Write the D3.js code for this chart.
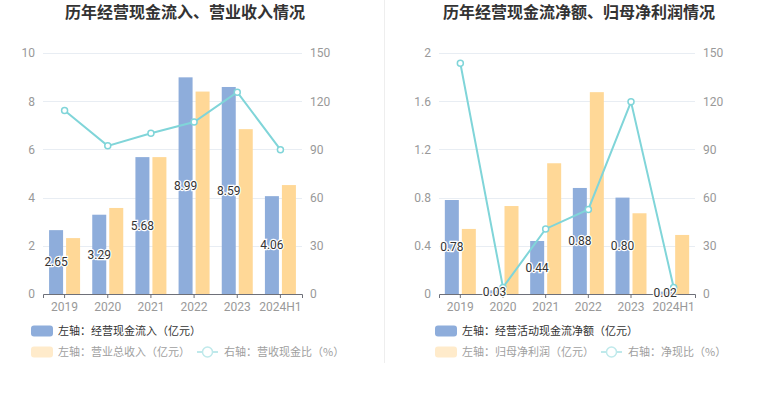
<!DOCTYPE html>
<html>
<head>
<meta charset="utf-8">
<script src="https://cdn.jsdelivr.net/npm/d3@7"></script>
<style>
  body { margin: 0; background: #fff; }
  svg { display: block; font-family: "Noto Sans CJK SC", "Noto Sans", sans-serif; }
</style>
</head>
<body>
<div id="chart_container"></div>
<script>
// Data

const years = ["2019", "2020", "2021", "2022", "2023", "2024H1"]

const cashInflow = [2.65, 3.29, 5.68, 8.99, 8.59, 4.06]
const revenue = [2.32, 3.57, 5.68, 8.40, 6.84, 4.52]
const cashRevenueRatio = [114.2, 92.2, 100.0, 107.0, 125.6, 89.8]

const netCashFlow = [0.78, 0.03, 0.44, 0.88, 0.80, 0.02]
const netProfit = [0.54, 0.73, 1.085, 1.675, 0.67, 0.49]
const netCashRatio = [143.6, 4.1, 40.5, 52.6, 119.6, 4.1]

const leftTicksA = [0, 2, 4, 6, 8, 10]
const leftTicksB = [0, 0.4, 0.8, 1.2, 1.6, 2]
const rightTicks = [0, 30, 60, 90, 120, 150]

// Styles

const blue = "#8eaddb"
const yellow = "#ffd897"
const teal = "#80d5d9"
const axisText = "#999"
const gridColor = "#e8edf3"
const legendSize = "11px"

const W = 765, H = 393
const plotTop = 53, plotBottom = 294

const svg = d3.select("#chart_container").append("svg")
  .attr("width", W)
  .attr("height", H)

// separator
svg.append("line")
  .attr("x1", 384.5).attr("x2", 384.5)
  .attr("y1", 0).attr("y2", 363)
  .attr("stroke", "#eeeeee")
  .attr("stroke-width", 1)

function drawChart(cfg) {
  const g = svg.append("g")

  const x = d3.scaleBand().domain(years).range([cfg.left, cfg.right])
  const yL = d3.scaleLinear().domain([0, d3.max(cfg.leftTicks)]).range([plotBottom, plotTop])
  const yR = d3.scaleLinear().domain([0, 150]).range([plotBottom, plotTop])

  // title
  g.append("text")
    .attr("x", cfg.titleX)
    .attr("y", 18)
    .attr("text-anchor", "middle")
    .style("font-size", "16px")
    .style("font-weight", "bold")
    .style("fill", "#333")
    .text(cfg.title)

  // gridlines
  g.selectAll(".grid")
    .data(cfg.leftTicks.slice(1))
    .join("line")
    .attr("x1", cfg.left)
    .attr("x2", cfg.right)
    .attr("y1", d => Math.round(yL(d)) + 0.5)
    .attr("y2", d => Math.round(yL(d)) + 0.5)
    .attr("stroke", gridColor)
    .attr("stroke-width", 1)

  // left axis
  g.append("g")
    .attr("transform", `translate(${cfg.left}, 0)`)
    .call(d3.axisLeft(yL).tickValues(cfg.leftTicks).tickFormat(d => String(d)).tickSize(0).tickPadding(8))
    .call(a => a.select(".domain").remove())
    .selectAll("text")
    .style("font-size", "12px")
    .style("font-family", "Roboto, sans-serif")
    .style("fill", axisText)

  // right axis
  g.append("g")
    .attr("transform", `translate(${cfg.right}, 0)`)
    .call(d3.axisRight(yR).tickValues(rightTicks).tickSize(0).tickPadding(8))
    .call(a => a.select(".domain").remove())
    .selectAll("text")
    .style("font-size", "12px")
    .style("font-family", "Roboto, sans-serif")
    .style("fill", axisText)

  // bars
  const barW = 14, gap = 3
  g.selectAll(".barA")
    .data(cfg.barA)
    .join("rect")
    .attr("x", (d, i) => x(years[i]) + x.bandwidth() / 2 - barW - gap / 2)
    .attr("y", d => yL(d))
    .attr("width", barW)
    .attr("height", d => plotBottom - yL(d))
    .attr("fill", blue)

  g.selectAll(".barB")
    .data(cfg.barB)
    .join("rect")
    .attr("x", (d, i) => x(years[i]) + x.bandwidth() / 2 + gap / 2)
    .attr("y", d => yL(d))
    .attr("width", barW)
    .attr("height", d => plotBottom - yL(d))
    .attr("fill", yellow)

  // x axis
  g.append("g")
    .attr("transform", `translate(0, ${plotBottom})`)
    .call(d3.axisBottom(x).tickSize(4).tickPadding(4))
    .call(a => a.select(".domain").attr("stroke", "#6e7079"))
    .call(a => a.selectAll(".tick line").attr("stroke", "#6e7079"))
    .selectAll("text")
    .style("font-size", "12px")
    .style("font-family", "Roboto, sans-serif")
    .style("fill", axisText)

  // ratio line
  g.append("path")
    .datum(cfg.ratio)
    .attr("fill", "none")
    .attr("stroke", teal)
    .attr("stroke-width", 2)
    .attr("d", d3.line()
      .x((d, i) => x(years[i]) + x.bandwidth() / 2)
      .y(d => yR(d)))

  g.selectAll(".dot")
    .data(cfg.ratio)
    .join("circle")
    .attr("cx", (d, i) => x(years[i]) + x.bandwidth() / 2)
    .attr("cy", d => yR(d))
    .attr("r", 3)
    .attr("fill", "#fff")
    .attr("stroke", teal)
    .attr("stroke-width", 1.5)

  // bar labels
  g.selectAll(".lbl")
    .data(cfg.barA)
    .join("text")
    .attr("x", (d, i) => x(years[i]) + x.bandwidth() / 2 - barW / 2 - gap / 2)
    .attr("y", d => (yL(d) + plotBottom) / 2)
    .attr("dy", "0.35em")
    .attr("text-anchor", "middle")
    .style("font-size", "12px")
    .style("font-family", "Roboto, sans-serif")
    .style("fill", "#333")
    .style("stroke", "#fff")
    .style("stroke-width", 2.5)
    .style("paint-order", "stroke")
    .text(d => d.toFixed(2))

  // legend
  const lx = cfg.legendX
  g.append("rect")
    .attr("x", lx).attr("y", 325.5)
    .attr("width", 22).attr("height", 11).attr("rx", 3)
    .attr("fill", blue)
  g.append("text")
    .attr("x", lx + 27).attr("y", 331).attr("dy", "0.35em")
    .style("font-size", legendSize).style("fill", "#333")
    .text(cfg.legendA)

  g.append("rect")
    .attr("x", lx).attr("y", 346.5)
    .attr("width", 22).attr("height", 11).attr("rx", 3)
    .attr("fill", "#ffebcb")
  g.append("text")
    .attr("x", lx + 27).attr("y", 352).attr("dy", "0.35em")
    .style("font-size", legendSize).style("fill", "#a0a0a0")
    .text(cfg.legendB)

  const ix = cfg.lineLegendX
  g.append("line")
    .attr("x1", ix).attr("x2", ix + 21)
    .attr("y1", 352).attr("y2", 352)
    .attr("stroke", "#bfe9eb").attr("stroke-width", 2)
  g.append("circle")
    .attr("cx", ix + 10.5).attr("cy", 352).attr("r", 5)
    .attr("fill", "#fff").attr("stroke", "#bfe9eb").attr("stroke-width", 1.5)
  g.append("text")
    .attr("x", ix + 27).attr("y", 352).attr("dy", "0.35em")
    .style("font-size", legendSize).style("fill", "#a0a0a0")
    .text(cfg.legendC)
}

drawChart({
  left: 43, right: 302, titleX: 185,
  title: "历年经营现金流入、营业收入情况",
  leftTicks: leftTicksA,
  barA: cashInflow, barB: revenue, ratio: cashRevenueRatio,
  legendX: 31, lineLegendX: 197,
  legendA: "左轴：经营现金流入（亿元）",
  legendB: "左轴：营业总收入（亿元）",
  legendC: "右轴：营收现金比（%）"
})

drawChart({
  left: 439, right: 695, titleX: 579,
  title: "历年经营现金流净额、归母净利润情况",
  leftTicks: leftTicksB,
  barA: netCashFlow, barB: netProfit, ratio: netCashRatio,
  legendX: 435, lineLegendX: 601,
  legendA: "左轴：经营活动现金流净额（亿元）",
  legendB: "左轴：归母净利润（亿元）",
  legendC: "右轴：净现比（%）"
})
</script>
</body>
</html>
